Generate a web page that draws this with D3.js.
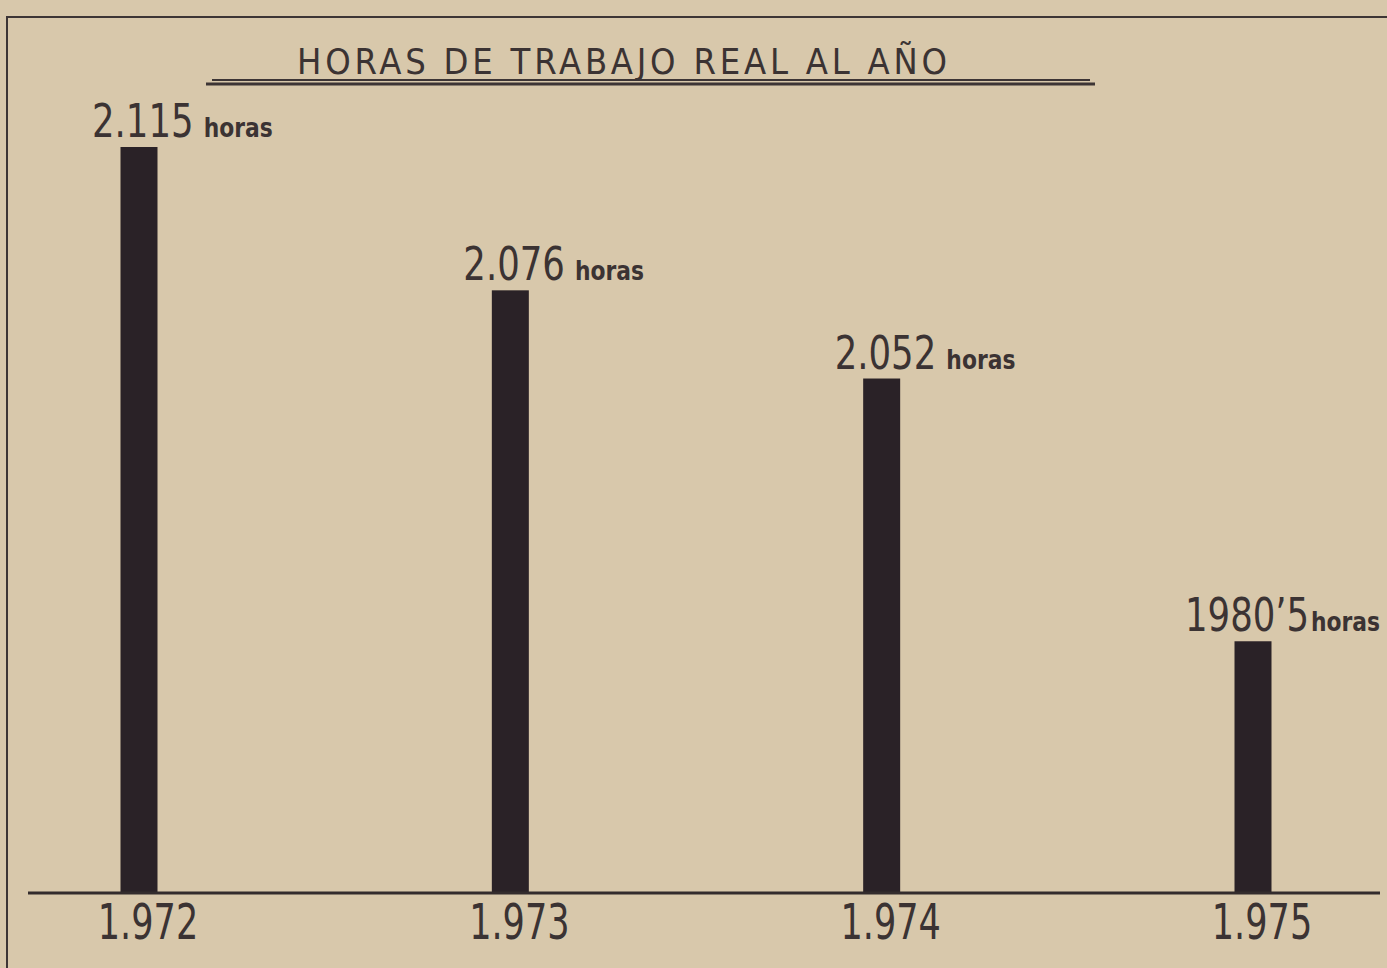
<!DOCTYPE html>
<html>
<head>
<meta charset="utf-8">
<title>Horas de trabajo real al año</title>
<script src="https://d3js.org/d3.v7.min.js"></script>
<style>
  body { margin: 0; background: #d8c8ab; }
  svg { display: block; }
  text { font-family: "DejaVu Sans Condensed", "DejaVu Sans", sans-serif; fill: #3b3333; }
  .num { font-size: 47px; }
  .unit { font-size: 26px; font-weight: bold; font-family: "DejaVu Sans", sans-serif; }
  .year { font-size: 50px; }
  .title { font-size: 36px; }
</style>
</head>
<body>
<svg width="1387" height="968"></svg>
<script>
// datos
var years = ["1.972", "1.973", "1.974", "1.975"];
var hours = [2115, 2076, 2052, 1980.5];
var valueLabels = ["2.115", "2.076", "2.052", "1980\u20195"];
var unitLabel = "horas";
var title = "HORAS DE TRABAJO REAL AL AÑO";

var svg = d3.select("svg"),
    width = +svg.attr("width"),
    height = +svg.attr("height"),
    baseY = 893;

var x = d3.scalePoint().domain(years).range([139, 1253]);
var y = d3.scaleLinear().domain([1912, 2115]).range([baseY, 147]);
var barW = 37;

// marco del recuadro
svg.append("path")
    .attr("d", "M7," + height + "V17H" + width)
    .attr("fill", "none")
    .attr("stroke", "#3d3535")
    .attr("stroke-width", 2);

// título con doble subrayado
svg.append("text")
    .attr("class", "title")
    .attr("x", 297)
    .attr("y", 74)
    .attr("textLength", 650)
    .attr("lengthAdjust", "spacing")
    .text(title);

svg.append("line")
    .attr("x1", 212).attr("x2", 1090)
    .attr("y1", 80).attr("y2", 80)
    .attr("stroke", "#3d3535").attr("stroke-width", 2);
svg.append("line")
    .attr("x1", 206).attr("x2", 1095)
    .attr("y1", 84).attr("y2", 84)
    .attr("stroke", "#3d3535").attr("stroke-width", 3);

// barras
var data = years.map(function(d, i) { return {year: d, value: hours[i], label: valueLabels[i]}; });

svg.selectAll("rect.bar")
    .data(data)
  .enter().append("rect")
    .attr("class", "bar")
    .attr("x", function(d) { return x(d.year) - barW / 2; })
    .attr("y", function(d) { return y(d.value); })
    .attr("width", barW)
    .attr("height", function(d) { return baseY - y(d.value); })
    .attr("fill", "#2a2227");

// línea base
svg.append("line")
    .attr("x1", 28).attr("x2", 1380)
    .attr("y1", baseY).attr("y2", baseY)
    .attr("stroke", "#332c2d")
    .attr("stroke-width", 3);

// etiquetas de valor (letra estrecha como en el original)
var lab = svg.selectAll("text.val")
    .data(data)
  .enter().append("text")
    .attr("class", "val")
    .attr("transform", function(d, i) {
      var lx = x(d.year) - (i == 3 ? 68 : 47);
      return "translate(" + lx + "," + (y(d.value) - 10) + ") scale(0.84,1)";
    });

lab.append("tspan")
    .attr("class", "num")
    .text(function(d) { return d.label; });
lab.append("tspan")
    .attr("class", "unit")
    .attr("dx", function(d, i) { return i == 3 ? 2 : 12; })
    .text(unitLabel);

// años
svg.selectAll("text.year")
    .data(data)
  .enter().append("text")
    .attr("class", "year")
    .attr("text-anchor", "middle")
    .attr("transform", function(d) { return "translate(" + (x(d.year) + 9) + ",939) scale(0.78,1)"; })
    .text(function(d) { return d.year; });
</script>
</body>
</html>
